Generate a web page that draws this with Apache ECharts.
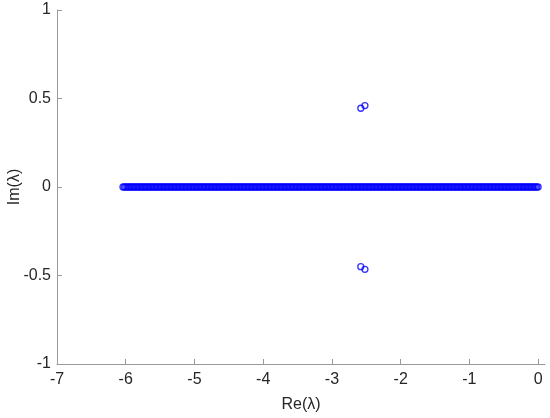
<!DOCTYPE html>
<html><head><meta charset="utf-8">
<script src="https://cdn.jsdelivr.net/npm/echarts@6/dist/echarts.min.js"></script>
<style>html,body{margin:0;padding:0;background:#fff}#c{width:550px;height:418px}</style>
</head><body><div id="c"></div>
<script>
var realEigs = [
-6.04,-6.02,-6.00,-5.98,-5.96,-5.94,-5.92,-5.90,-5.88,-5.86,-5.84,-5.82,-5.80,-5.78,-5.76,-5.74,-5.72,-5.70,-5.68,-5.66,-5.64,-5.62,-5.60,-5.58,-5.56,-5.54,-5.52,-5.50,-5.48,-5.46,-5.44,-5.42,-5.40,-5.38,-5.36,-5.34,-5.32,-5.30,-5.28,-5.26,-5.24,-5.22,-5.20,-5.18,-5.16,-5.14,-5.12,-5.10,-5.08,-5.06,-5.04,-5.02,
-5.00,-4.98,-4.96,-4.94,-4.92,-4.90,-4.88,-4.86,-4.84,-4.82,-4.80,-4.78,-4.76,-4.74,-4.72,-4.70,-4.68,-4.66,-4.64,-4.62,-4.60,-4.58,-4.56,-4.54,-4.52,-4.50,-4.48,-4.46,-4.44,-4.42,-4.40,-4.38,-4.36,-4.34,-4.32,-4.30,-4.28,-4.26,-4.24,-4.22,-4.20,-4.18,-4.16,-4.14,-4.12,-4.10,-4.08,-4.06,-4.04,-4.02,
-4.00,-3.98,-3.96,-3.94,-3.92,-3.90,-3.88,-3.86,-3.84,-3.82,-3.80,-3.78,-3.76,-3.74,-3.72,-3.70,-3.68,-3.66,-3.64,-3.62,-3.60,-3.58,-3.56,-3.54,-3.52,-3.50,-3.48,-3.46,-3.44,-3.42,-3.40,-3.38,-3.36,-3.34,-3.32,-3.30,-3.28,-3.26,-3.24,-3.22,-3.20,-3.18,-3.16,-3.14,-3.12,-3.10,-3.08,-3.06,-3.04,-3.02,
-3.00,-2.98,-2.96,-2.94,-2.92,-2.90,-2.88,-2.86,-2.84,-2.82,-2.80,-2.78,-2.76,-2.74,-2.72,-2.70,-2.68,-2.66,-2.64,-2.62,-2.60,-2.58,-2.56,-2.54,-2.52,-2.50,-2.48,-2.46,-2.44,-2.42,-2.40,-2.38,-2.36,-2.34,-2.32,-2.30,-2.28,-2.26,-2.24,-2.22,-2.20,-2.18,-2.16,-2.14,-2.12,-2.10,-2.08,-2.06,-2.04,-2.02,
-2.00,-1.98,-1.96,-1.94,-1.92,-1.90,-1.88,-1.86,-1.84,-1.82,-1.80,-1.78,-1.76,-1.74,-1.72,-1.70,-1.68,-1.66,-1.64,-1.62,-1.60,-1.58,-1.56,-1.54,-1.52,-1.50,-1.48,-1.46,-1.44,-1.42,-1.40,-1.38,-1.36,-1.34,-1.32,-1.30,-1.28,-1.26,-1.24,-1.22,-1.20,-1.18,-1.16,-1.14,-1.12,-1.10,-1.08,-1.06,-1.04,-1.02,
-1.00,-0.98,-0.96,-0.94,-0.92,-0.90,-0.88,-0.86,-0.84,-0.82,-0.80,-0.78,-0.76,-0.74,-0.72,-0.70,-0.68,-0.66,-0.64,-0.62,-0.60,-0.58,-0.56,-0.54,-0.52,-0.50,-0.48,-0.46,-0.44,-0.42,-0.40,-0.38,-0.36,-0.34,-0.32,-0.30,-0.28,-0.26,-0.24,-0.22,-0.20,-0.18,-0.16,-0.14,-0.12,-0.10,-0.08,-0.06,-0.04,-0.02,0.00];
// Complex eigenvalues
var complexRe = [-2.58, -2.52, -2.58, -2.52];
var complexIm = [0.445, 0.460, -0.450, -0.465];
var xTicks = [-7,-6,-5,-4,-3,-2,-1,0];
var yTicks = [-1,-0.5,0,0.5,1];

var data = realEigs.map(function(v){return [v,0];});
for (var i=0;i<complexRe.length;i++) data.push([complexRe[i], complexIm[i]]);

var font = 'Liberation Sans, Arial, sans-serif';
var chart = echarts.init(document.getElementById('c'), null, {renderer:'canvas'});
chart.setOption({
  animation:false,
  grid:{left:57,right:5,top:10,bottom:54,containLabel:false,outerBoundsMode:'none'},
  xAxis:{type:'value',min:-7,max:0.1,
    name:'Re(λ)',nameLocation:'middle',nameGap:33,nameMoveOverlap:false,
    nameTextStyle:{fontFamily:font,fontSize:16,color:'#262626'},
    axisLine:{show:true,onZero:false,lineStyle:{color:'#9a9a9a',width:1}},
    axisTick:{show:true,inside:true,length:5,customValues:xTicks,lineStyle:{color:'#9a9a9a'}},
    axisLabel:{customValues:xTicks,fontFamily:font,fontSize:16,color:'#262626',margin:8},
    splitLine:{show:false}},
  yAxis:{type:'value',min:-1,max:1,interval:0.5,
    name:'Im(λ)',nameLocation:'middle',nameGap:34,nameMoveOverlap:false,
    nameTextStyle:{fontFamily:font,fontSize:16,color:'#262626'},
    axisLine:{show:true,onZero:false,lineStyle:{color:'#9a9a9a',width:1}},
    axisTick:{show:true,inside:true,length:5,customValues:yTicks,lineStyle:{color:'#9a9a9a'}},
    axisLabel:{customValues:yTicks,fontFamily:font,fontSize:16,color:'#262626',margin:6},
    splitLine:{show:false}},
  series:[{type:'scatter',data:data,symbol:'circle',symbolSize:6,large:false,
    itemStyle:{color:'rgba(0,0,0,0)',borderColor:'#0000ff',borderWidth:1.3}}]
});
</script></body></html>
